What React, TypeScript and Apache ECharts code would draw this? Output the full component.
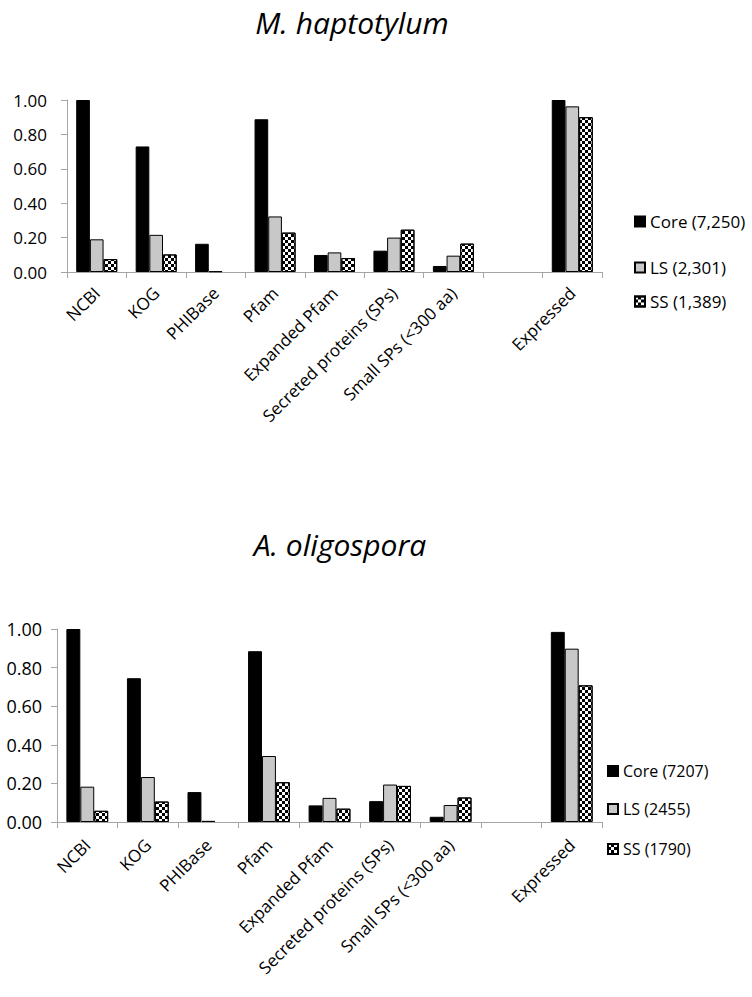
import React, { useEffect, useRef } from "react";
import * as echarts from "echarts";

const categories = [
  "NCBI",
  "KOG",
  "PHIBase",
  "Pfam",
  "Expanded Pfam",
  "Secreted proteins (SPs)",
  "Small SPs (<300 aa)",
  "",
  "Expressed",
];
const yTicks = [0, 0.2, 0.4, 0.6, 0.8, 1.0];

const titleTop = "M. haptotylum";
const namesTop = ["Core (7,250)", "LS (2,301)", "SS (1,389)"];
const mhCore = [1.0, 0.73, 0.164, 0.888, 0.099, 0.124, 0.035, null, 1.0];
const mhLS = [0.19, 0.216, 0.004, 0.323, 0.114, 0.2, 0.095, null, 0.963];
const mhSS = [0.075, 0.102, 0, 0.229, 0.081, 0.246, 0.165, null, 0.9];

const titleBottom = "A. oligospora";
const namesBottom = ["Core (7207)", "LS (2455)", "SS (1790)"];
const aoCore = [1.0, 0.745, 0.155, 0.885, 0.086, 0.108, 0.027, null, 0.985];
const aoLS = [0.183, 0.233, 0.006, 0.342, 0.125, 0.194, 0.088, null, 0.898];
const aoSS = [0.058, 0.106, 0, 0.206, 0.069, 0.187, 0.127, null, 0.708];

const FONT = "'Open Sans', 'Noto Sans', sans-serif";
const AXIS_GRAY = "#a6a6a6";

const checker = {
  symbol: "rect",
  symbolSize: 1,
  color: "#000",
  dashArrayX: [
    [3, 3],
    [0, 3, 3, 0],
  ],
  dashArrayY: [3, 0],
  rotation: 0,
};

const styles = [
  { color: "#000", borderColor: "#000", borderWidth: 1 },
  { color: "#c8c8c8", borderColor: "#000", borderWidth: 1 },
  { color: "#fff", borderColor: "#000", borderWidth: 1, decal: checker },
];

const clean = (arr: (number | null)[]) => arr.map((v) => (v === 0 ? null : v));

export default function App() {
  const ref = useRef<HTMLDivElement>(null);
  useEffect(() => {
    if (!ref.current) return;
    const chart = echarts.init(ref.current, null, { renderer: "svg" });

    const mkX = (gridIndex: number, fontSize: number, margin: number) => ({
      type: "category",
      gridIndex,
      data: categories,
      boundaryGap: true,
      axisLine: { show: true, lineStyle: { color: AXIS_GRAY, width: 1 } },
      axisTick: { show: true, length: 6, lineStyle: { color: AXIS_GRAY } },
      axisLabel: {
        interval: 0,
        rotate: 45,
        margin,
        fontSize,
        color: "#000",
        fontFamily: FONT,
      },
      splitLine: { show: false },
    });
    const mkY = (gridIndex: number, fontSize: number, margin: number) => ({
      type: "value",
      gridIndex,
      min: yTicks[0],
      max: yTicks[yTicks.length - 1],
      interval: 0.2,
      axisLine: { show: true, lineStyle: { color: AXIS_GRAY, width: 1 } },
      axisTick: { show: true, length: 6, lineStyle: { color: AXIS_GRAY } },
      axisLabel: {
        margin,
        fontSize,
        color: "#000",
        fontFamily: FONT,
        formatter: (v: number) => v.toFixed(2),
      },
      splitLine: { show: false },
    });

    const groups = [
      { names: namesTop, data: [mhCore, mhLS, mhSS] },
      { names: namesBottom, data: [aoCore, aoLS, aoSS] },
    ];
    const series: any[] = [];
    groups.forEach((g, gi) => {
      g.data.forEach((d, si) => {
        series.push({
          type: "bar",
          name: g.names[si],
          xAxisIndex: gi,
          yAxisIndex: gi,
          data: clean(d),
          barGap: "0%",
          barCategoryGap: "31%",
          itemStyle: styles[si],
          emphasis: { disabled: true },
        });
      });
    });

    const legendPos = [
      { left: 634, tops: [213, 259, 293], fontSize: 17 },
      { left: 607, tops: [763, 801, 841], fontSize: 16 },
    ];
    const legends: any[] = [];
    groups.forEach((g, gi) => {
      g.names.forEach((n, si) => {
        legends.push({
          data: [n],
          left: legendPos[gi].left,
          top: legendPos[gi].tops[si],
          orient: "vertical",
          padding: 0,
          itemWidth: 10,
          itemHeight: 10,
          itemGap: 0,
          selectedMode: false,
          icon: "rect",
          textStyle: {
            fontSize: legendPos[gi].fontSize,
            color: "#000",
            fontFamily: FONT,
          },
        });
      });
    });

    const titleStyle = {
      fontSize: 30,
      lineHeight: 34,
      fontStyle: "italic",
      fontWeight: "normal",
      color: "#000",
      fontFamily: FONT,
    };

    chart.setOption({
      animation: false,
      backgroundColor: "#fff",
      aria: { enabled: false },
      title: [
        {
          text: titleTop,
          left: 352,
          top: 5,
          padding: 0,
          textAlign: "center",
          textStyle: titleStyle,
        },
        {
          text: titleBottom,
          left: 340,
          top: 527,
          padding: 0,
          textAlign: "center",
          textStyle: titleStyle,
        },
      ],
      legend: legends,
      grid: [
        { left: 67, top: 100, width: 535, height: 172, outerBoundsMode: "none", containLabel: false },
        { left: 57, top: 629, width: 545, height: 193, outerBoundsMode: "none", containLabel: false },
      ],
      xAxis: [mkX(0, 17, 18), mkX(1, 17, 20)],
      yAxis: [mkY(0, 17, 20), mkY(1, 18, 15)],
      series,
    });
    return () => chart.dispose();
  }, []);
  return (
    <div
      ref={ref}
      style={{ position: "absolute", left: 0, top: 0, width: 752, height: 997 }}
    />
  );
}
